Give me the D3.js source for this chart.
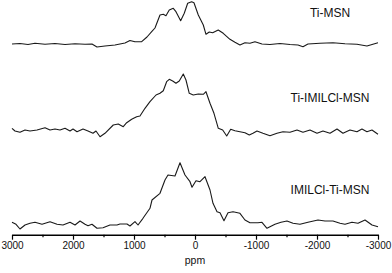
<!DOCTYPE html>
<html>
<head>
<meta charset="utf-8">
<script src="https://cdn.jsdelivr.net/npm/d3@7"></script>
<style>
  html, body { margin: 0; padding: 0; background: #fff; }
  svg { display: block; }
</style>
</head>
<body>
<svg id="chart" width="392" height="273"></svg>
<script>
// ---- data (ppm, intensity relative to each trace's baseline) ----
const seriesNames = ["Ti-MSN", "Ti-IMILCl-MSN", "IMILCl-Ti-MSN"];

const tiMSN = [
  [3000,0],[2869,0.5],[2738,-0.5],[2623,0.7],[2459,-0.3],[2295,0.5],[2131,-0.5],[1967,0.3],
  [1803,-0.3],[1689,0],[1607,-3],[1476,-2],[1312,-1],[1148,1],[1066,3.5],[984,2.3],[874,2.3],
  [787,7],[710,12.3],[656,16],[574,29],[520,29.7],[476,28.3],[422,34],[356,35.7],[312,32.3],
  [235,23.3],[176,30.7],[120,40.7],[55,42.3],[17,41.3],[-54,29],[-136,19],[-180,9.7],
  [-234,12],[-290,11.3],[-381,14],[-463,10.7],[-573,4.7],[-655,1.7],[-737,-1],[-819,1.3],
  [-901,0.7],[-983,2.3],[-1098,0],[-1229,-0.5],[-1393,0.5],[-1557,-0.5],[-1688,-1],
  [-1770,-2.7],[-1852,0],[-2049,0.7],[-2262,1.3],[-2459,0.3],[-2655,-0.3],[-2819,-2],[-3000,1.3]
];

const tiIMILClMSN = [
  [3000,1.7],[2951,-1],[2869,-2.3],[2787,0],[2705,-1],[2590,0],[2459,2.3],[2377,0],[2295,1],
  [2213,0],[2131,1.7],[2049,-1],[2000,1],[1934,-1.7],[1836,1],[1754,-1],[1672,-3.3],[1623,-1],
  [1557,-6.7],[1476,-3.3],[1340,5],[1258,6],[1176,3.3],[1120,7.3],[1038,10.7],[956,13.3],
  [902,14],[820,21.7],[738,28.3],[639,35],[574,36.7],[520,39.3],[465,48.3],[422,50.7],
  [366,49],[312,46.7],[258,49],[192,56],[148,50],[94,36.7],[28,35],[-54,36],[-136,35.7],
  [-180,38.3],[-246,26.7],[-311,16.7],[-382,1.7],[-454,0],[-520,-6],[-585,0.7],[-655,-0.7],
  [-737,-1.7],[-819,-2.7],[-890,-5],[-950,-3.3],[-1016,-1],[-1114,-3.3],[-1229,-5.7],
  [-1344,-3.3],[-1442,-1.7],[-1557,-2.3],[-1672,0],[-1770,-2.3],[-1885,0],[-2000,-3.3],
  [-2098,-1],[-2213,-3.3],[-2328,1],[-2426,-3.3],[-2540,0],[-2655,-1.7],[-2737,1],
  [-2819,-1.7],[-2901,0],[-3000,-4.3]
];

const imilclTiMSN = [
  [3000,1.7],[2934,-0.3],[2869,-5],[2787,-1],[2705,0.7],[2623,1.7],[2508,-0.3],[2377,2.3],
  [2262,-0.3],[2164,-1],[2049,1.7],[1967,-1],[1885,3],[1803,-0.3],[1754,-1.7],[1689,-0.3],
  [1607,-4.3],[1508,-3.7],[1394,-1],[1279,-1],[1230,0],[1115,0],[1066,-2],[984,2.3],[934,-1],
  [853,5.7],[738,15.7],[705,24],[574,30.7],[492,44],[443,49],[328,48],[246,61.3],[164,49],
  [82,42.3],[49,36.7],[-16,43.3],[-82,42.3],[-164,47.3],[-246,34],[-295,20.7],[-361,12.3],
  [-410,11.3],[-475,3.3],[-541,11.3],[-623,12.3],[-737,10.7],[-819,4],[-901,1.3],[-1032,1.3],
  [-1098,1.7],[-1180,-4.3],[-1311,-0.3],[-1410,1.7],[-1508,3],[-1607,0.7],[-1721,-0.3],
  [-1852,1.7],[-2016,4],[-2131,3],[-2262,3],[-2377,0.7],[-2459,-0.3],[-2573,1.7],[-2672,0.7],
  [-2787,4],[-2902,-1],[-3000,-2.7]
];

const traces = [tiMSN, tiIMILClMSN, imilclTiMSN];
const traceOffsets = [180, 94, 0];            // vertical stacking offsets (intensity units)
const majorTicks = [3000, 2000, 1000, 0, -1000, -2000, -3000];
const minorTicks = [2500, 1500, 500, -500, -1500, -2500];
const xLabel = "ppm";

// ---- scales ----
const svg = d3.select("#chart");
const x = d3.scaleLinear().domain([3000, -3000]).range([12, 378]);
const y = d3.scaleLinear().domain([0, 240]).range([224, -16]);
const axisY = 234.7;

const line = d3.line()
  .x(d => x(d[0]))
  .y(d => d[1])
  .curve(d3.curveLinear);

traces.forEach((tr, i) => {
  svg.append("path")
    .datum(tr.map(d => [d[0], y(d[1] + traceOffsets[i])]))
    .attr("fill", "none")
    .attr("stroke", "#1a1a1a")
    .attr("stroke-width", 1.1)
    .attr("stroke-linejoin", "round")
    .attr("d", line);
});

// labels
const labelY = [17, 102, 194];
seriesNames.forEach((n, i) => {
  svg.append("text")
    .attr("x", 330)
    .attr("y", labelY[i])
    .attr("text-anchor", "middle")
    .attr("font-family", "Liberation Sans, Arial, sans-serif")
    .attr("font-size", "12px")
    .attr("fill", "#111")
    .text(n);
});

// axis
const axis = d3.axisBottom(x)
  .tickValues(majorTicks)
  .tickSizeInner(5)
  .tickSizeOuter(0)
  .tickPadding(2.5)
  .tickFormat(d => String(d));
const g = svg.append("g").attr("transform", `translate(0,${axisY})`).call(axis);
g.select(".domain").attr("stroke", "#000").attr("stroke-width", 1.5);
g.selectAll(".tick line").attr("stroke", "#000").attr("stroke-width", 1.2);
g.selectAll(".tick text")
  .attr("font-family", "Liberation Sans, Arial, sans-serif")
  .attr("font-size", "10px")
  .attr("fill", "#111");

const minorAxis = d3.axisBottom(x)
  .tickValues(minorTicks)
  .tickSizeInner(2.5)
  .tickSizeOuter(0)
  .tickFormat("");
const gm = svg.append("g").attr("transform", `translate(0,${axisY})`).call(minorAxis);
gm.select(".domain").remove();
gm.selectAll(".tick line").attr("stroke", "#000").attr("stroke-width", 1.2);

svg.append("text")
  .attr("x", (x.range()[0] + x.range()[1]) / 2)
  .attr("y", 264)
  .attr("text-anchor", "middle")
  .attr("font-family", "Liberation Sans, Arial, sans-serif")
  .attr("font-size", "10.5px")
  .attr("fill", "#111")
  .text(xLabel);
</script>
</body>
</html>
